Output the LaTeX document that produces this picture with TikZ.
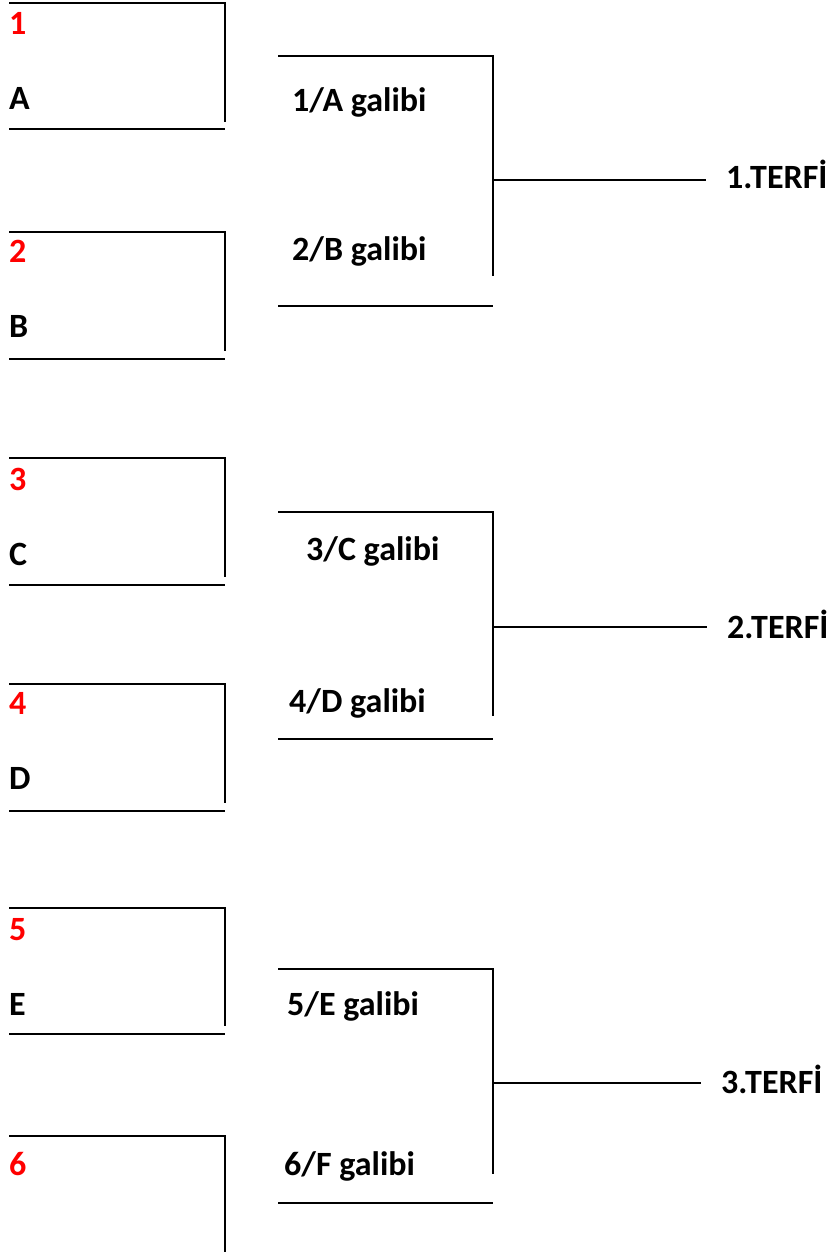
\documentclass[tikz,border=0pt]{standalone}
\usepackage{fontspec}
\setmainfont{Carlito}
\usepackage{tikz}
\usetikzlibrary{positioning}
\definecolor{seedred}{RGB}{255,0,0}
\tikzset{
  lbl/.style={font=\bfseries\fontsize{34}{40}\selectfont, inner sep=0pt, anchor=base west},
  seed/.style={lbl, text=seedred},
  terfi/.style={lbl, inner xsep=20pt},
  ln/.style={line width=1.8pt}
}

\begin{document}
\begin{tikzpicture}[line cap=butt,line join=miter,x=1pt,y=-1pt]
\useasboundingbox (0,0) rectangle (833,1252);
% first round, boxes 1-2
\draw [ln] (9,3)-- (225,3)-- (225,122);
\draw [ln] (9,129)-- (225,129);
\draw [ln] (9,232)-- (225,232)-- (225,351);
\draw [ln] (9,359)-- (225,359);
\node [seed] (s1) at (9,35) {1};
\node [lbl] (tA) at (9,110) {A};
\node [seed] (s2) at (9,262) {2};
\node [lbl] (tB) at (9,337) {B};
% first round, boxes 3-4
\draw [ln] (9,458)-- (225,458)-- (225,577);
\draw [ln] (9,585)-- (225,585);
\draw [ln] (9,684)-- (225,684)-- (225,803);
\draw [ln] (9,811)-- (225,811);
\node [seed] (s3) at (9,490) {3};
\node [lbl] (tC) at (9,565) {C};
\node [seed] (s4) at (9,714) {4};
\node [lbl] (tD) at (9,789) {D};
% first round, boxes 5-6
\draw [ln] (9,908)-- (225,908)-- (225,1026);
\draw [ln] (9,1034)-- (225,1034);
\draw [ln] (9,1136)-- (225,1136)-- (225,1252);
\node [seed] (s5) at (9,940) {5};
\node [lbl] (tE) at (9,1015) {E};
\node [seed] (s6) at (9,1175) {6};

% second round
\draw [ln] (278,56)-- (493,56)-- (493,276);
\draw [ln] (278,306)-- (493,306);
\node [lbl] (w1) at (292,112) {1/A galibi};
\node [lbl] (w2) at (292,260) {2/B galibi};
\draw [ln] (278,512)-- (493,512)-- (493,716);
\draw [ln] (278,739)-- (493,739);
\node [lbl] (w3) at (306,560) {3/C galibi};
\node [lbl] (w4) at (289,712) {4/D galibi};
\draw [ln] (278,969)-- (493,969)-- (493,1174);
\draw [ln] (278,1203)-- (493,1203);
\node [lbl] (w5) at (287,1015) {5/E galibi};
\node [lbl] (w6) at (284,1175) {6/F galibi};

% promotions
\coordinate (j1) at (493,180);
\coordinate (j2) at (493,627);
\coordinate (j3) at (493,1083);
\node [terfi] (t1) at (706,189) {1.TERF\.I};
\node [terfi] (t2) at (707,638) {2.TERF\.I};
\node [terfi] (t3) at (701,1093) {3.TERF\.I};
\draw [ln] (j1)-- (j1 -| t1.west);
\draw [ln] (j2)-- (j2 -| t2.west);
\draw [ln] (j3)-- (j3 -| t3.west);
\end{tikzpicture}
\end{document}
